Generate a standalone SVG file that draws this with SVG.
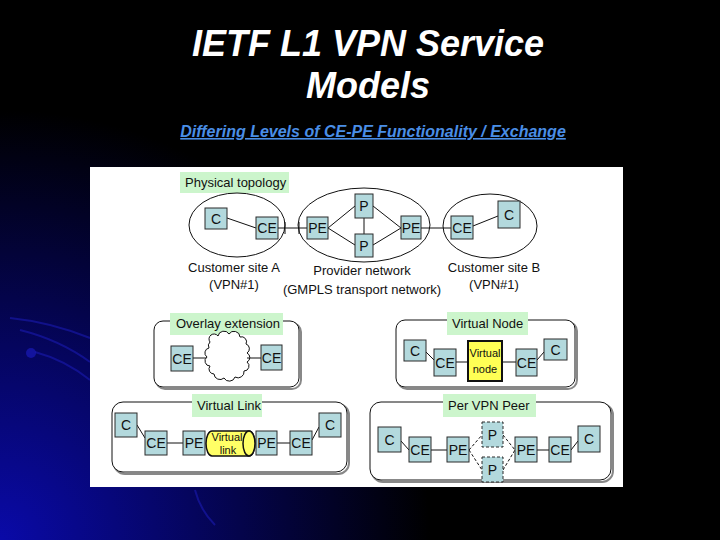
<svg xmlns="http://www.w3.org/2000/svg" width="720" height="540" viewBox="0 0 720 540">
<defs>
<radialGradient id="bg" cx="0" cy="540" r="430" gradientUnits="userSpaceOnUse">
<stop offset="0" stop-color="#0a0aa8"/>
<stop offset="0.45" stop-color="#05055e"/>
<stop offset="1" stop-color="#000000"/>
</radialGradient>
<style>
.n{fill:#b3d9dd;stroke:#2a2a2a;stroke-width:1}
.nd{fill:#b3d9dd;stroke:#2a2a2a;stroke-width:1;stroke-dasharray:3,2}
.t{font-family:"Liberation Sans",Arial,sans-serif;font-size:14px;fill:#111;text-anchor:middle}
.s{font-family:"Liberation Sans",Arial,sans-serif;font-size:13px;fill:#111}
.sm{font-family:"Liberation Sans",Arial,sans-serif;font-size:11px;fill:#111;text-anchor:middle}
.lab{fill:#ccf5cc;stroke:none}
.l{stroke:#111;stroke-width:1;fill:none}
.ld{stroke:#111;stroke-width:1;fill:none;stroke-dasharray:3,2}
.el{fill:none;stroke:#111;stroke-width:1}
.fr{fill:#fff;stroke:#111;stroke-width:1}
.shadow{fill:none;stroke:#888;stroke-width:2}
</style>
</defs>
<rect x="0" y="0" width="720" height="540" fill="#000"/>
<rect x="0" y="0" width="720" height="540" fill="url(#bg)"/>
<g id="swooshes" fill="none" stroke="#1a1ab0" stroke-width="2" opacity="0.6">
<path d="M10,318 Q50,322 90,338"/>
<path d="M20,330 Q60,340 90,362"/>
<path d="M35,352 Q65,360 90,380"/>
<path d="M195,490 Q200,510 215,525"/>
</g>
<circle cx="31" cy="353" r="5" fill="#1a1ab8" opacity="0.7"/>

<g id="title">
<text x="368" y="56" font-family="'Liberation Sans',Arial,sans-serif" font-size="36" font-weight="bold" font-style="italic" fill="#fff" text-anchor="middle">IETF L1 VPN Service</text>
<text x="368" y="98" font-family="'Liberation Sans',Arial,sans-serif" font-size="36" font-weight="bold" font-style="italic" fill="#fff" text-anchor="middle">Models</text>
<text x="373" y="137" font-family="'Liberation Sans',Arial,sans-serif" font-size="16" font-weight="bold" font-style="italic" fill="#4a8ee6" text-anchor="middle" text-decoration="underline">Differing Levels of CE-PE Functionality / Exchange</text>
</g>

<rect x="90" y="167" width="533" height="320" fill="#fff"/>

<!-- Physical topology -->
<g id="physical-label"><rect class="lab" x="180" y="172" width="109" height="21"/><text class="s" x="185" y="187">Physical topology</text></g>
<g id="site-a"><ellipse class="el" cx="237" cy="225" rx="48" ry="32"/>
<text class="s" x="234" y="272" text-anchor="middle">Customer site A</text>
<text class="s" x="234" y="289" text-anchor="middle">(VPN#1)</text></g>
<g id="provider"><ellipse class="el" cx="364" cy="225" rx="66" ry="37"/>
<text class="s" x="362" y="275" text-anchor="middle">Provider network</text>
<text class="s" x="362" y="294" text-anchor="middle">(GMPLS transport network)</text></g>
<g id="site-b"><ellipse class="el" cx="490" cy="226" rx="47" ry="32"/>
<text class="s" x="494" y="272" text-anchor="middle">Customer site B</text>
<text class="s" x="494" y="289" text-anchor="middle">(VPN#1)</text></g>

<g id="connectors">
<path class="l" d="M227,218 L256,228"/>
<path class="l" d="M278,228 H307 M285,222 V234 M299,222 V234"/>
<path class="l" d="M328,228 L355,206 M328,228 L355,245 M401,228 L373,206 M401,228 L373,245 M364,218 V234"/>
<path class="l" d="M421,228 H451"/>
<path class="l" d="M473,226 L498,216"/>
</g>

<g id="pt-c1"><rect class="n" x="205" y="208" width="22" height="21"/><text class="t" x="216" y="224">C</text></g>
<g id="pt-ce1"><rect class="n" x="256" y="217" width="22" height="22"/><text class="t" x="267" y="233">CE</text></g>
<g id="pt-pe1"><rect class="n" x="307" y="217" width="21" height="22"/><text class="t" x="317.5" y="233">PE</text></g>
<g id="pt-p1"><rect class="n" x="355" y="194" width="18" height="24"/><text class="t" x="364" y="211">P</text></g>
<g id="pt-p2"><rect class="n" x="355" y="234" width="18" height="23"/><text class="t" x="364" y="251">P</text></g>
<g id="pt-pe2"><rect class="n" x="401" y="216" width="20" height="23"/><text class="t" x="411" y="233">PE</text></g>
<g id="pt-ce2"><rect class="n" x="451" y="216" width="22" height="23"/><text class="t" x="462" y="233">CE</text></g>
<g id="pt-c2"><rect class="n" x="498" y="201" width="22" height="27"/><text class="t" x="509" y="220">C</text></g>

<!-- Overlay extension -->
<g id="overlay">
<rect class="shadow" x="156" y="323" width="145" height="66" rx="9"/>
<rect class="fr" x="154" y="321" width="145" height="66" rx="9"/>
<rect class="lab" x="170" y="313" width="113" height="22"/><text class="s" x="176" y="328">Overlay extension</text>
<path fill="#fff" stroke="#111" stroke-width="1" d="M210,342 a5,5 0 0 1 8,-6 a6,6 0 0 1 11,-2 a6,6 0 0 1 11,3 a5,5 0 0 1 6,7 a5,5 0 0 1 1,9 a5,5 0 0 1 0,9 a5,5 0 0 1 -3,9 a6,6 0 0 1 -9,6 a6,6 0 0 1 -11,1 a6,6 0 0 1 -10,-4 a5,5 0 0 1 -4,-8 a5,5 0 0 1 -3,-9 a5,5 0 0 1 2,-9 a5,5 0 0 1 1,-6 z"/>
<path class="l" d="M193,358 H206 M247,358 H261"/>
</g>
<g id="ov-ce1"><rect class="n" x="171" y="346" width="22" height="25"/><text class="t" x="182" y="364">CE</text></g>
<g id="ov-ce2"><rect class="n" x="261" y="345" width="21" height="25"/><text class="t" x="271.5" y="363">CE</text></g>

<!-- Virtual Node -->
<g id="vnode-frame">
<rect class="shadow" x="398" y="322" width="179" height="67" rx="9"/>
<rect class="fr" x="396" y="320" width="179" height="67" rx="9"/>
<rect class="lab" x="447" y="312" width="81" height="23"/><text class="s" x="452" y="328">Virtual Node</text>
<path class="l" d="M426,352 L434,360 M456,362 H468 M502,362 H516 M537,360 L544,352"/>
</g>
<g id="vn-c1"><rect class="n" x="404" y="340" width="22" height="21"/><text class="t" x="415" y="356">C</text></g>
<g id="vn-ce1"><rect class="n" x="434" y="349" width="22" height="27"/><text class="t" x="445" y="368">CE</text></g>
<g id="vn-vnode"><rect x="468" y="341" width="34" height="40" fill="#ffff55" stroke="#111" stroke-width="2"/><text class="sm" x="485" y="357">Virtual</text><text class="sm" x="485" y="373">node</text></g>
<g id="vn-ce2"><rect class="n" x="516" y="349" width="21" height="27"/><text class="t" x="526.5" y="368">CE</text></g>
<g id="vn-c2"><rect class="n" x="544" y="339" width="23" height="21"/><text class="t" x="555.5" y="355">C</text></g>

<!-- Virtual Link -->
<g id="vlink-frame">
<rect class="shadow" x="114" y="404" width="235" height="70" rx="11"/>
<rect class="fr" x="112" y="402" width="235" height="70" rx="11"/>
<rect class="lab" x="192" y="394" width="70" height="23"/><text class="s" x="197" y="410">Virtual Link</text>
<path class="l" d="M137,425 L145,438 M167,443 H183 M277,443 H290 M312,440 L319,427"/>
</g>
<g id="vl-c1"><rect class="n" x="115" y="413" width="22" height="24"/><text class="t" x="126" y="430">C</text></g>
<g id="vl-ce1"><rect class="n" x="145" y="431" width="22" height="24"/><text class="t" x="156" y="448">CE</text></g>
<g id="vl-pe1"><rect class="n" x="183" y="431" width="22" height="24"/><text class="t" x="194" y="448">PE</text></g>
<g id="vl-link">
<path d="M212,431 H249 A6,12.5 0 0 1 249,456 H212 A6,12.5 0 0 1 212,431 Z" fill="#ffff66" stroke="#111" stroke-width="1.5"/>
<ellipse cx="249" cy="443.5" rx="6" ry="12.5" fill="#ffff66" stroke="#111" stroke-width="1.5"/>
<text class="sm" x="227" y="441">Virtual</text><text class="sm" x="228" y="454">link</text>
</g>
<g id="vl-pe2"><rect class="n" x="256" y="431" width="21" height="24"/><text class="t" x="266.5" y="448">PE</text></g>
<g id="vl-ce2"><rect class="n" x="290" y="431" width="22" height="24"/><text class="t" x="301" y="448">CE</text></g>
<g id="vl-c2"><rect class="n" x="319" y="413" width="22" height="24"/><text class="t" x="330" y="430">C</text></g>

<!-- Per VPN Peer -->
<g id="peer-frame">
<rect class="shadow" x="372" y="404" width="241" height="78" rx="11"/>
<rect class="fr" x="370" y="402" width="241" height="78" rx="11"/>
<rect class="lab" x="443" y="394" width="93" height="23"/><text class="s" x="448" y="410">Per VPN Peer</text>
<path class="l" d="M401,441 L409,450 M431,450 H447 M537,450 H549 M571,450 L578,441"/>
<path class="ld" d="M469,450 L482,435 M469,450 L482,470 M503,435 L515,450 M503,470 L515,450"/>
</g>
<g id="pp-c1"><rect class="n" x="378" y="427" width="23" height="25"/><text class="t" x="389.5" y="445">C</text></g>
<g id="pp-ce1"><rect class="n" x="409" y="437" width="22" height="25"/><text class="t" x="420" y="455">CE</text></g>
<g id="pp-pe1"><rect class="n" x="447" y="437" width="22" height="25"/><text class="t" x="458" y="455">PE</text></g>
<g id="pp-p1"><rect class="nd" x="482" y="422" width="21" height="25"/><text class="t" x="492.5" y="440">P</text></g>
<g id="pp-p2"><rect class="nd" x="482" y="457" width="21" height="25"/><text class="t" x="492.5" y="475">P</text></g>
<g id="pp-pe2"><rect class="n" x="515" y="437" width="22" height="25"/><text class="t" x="526" y="455">PE</text></g>
<g id="pp-ce2"><rect class="n" x="549" y="437" width="22" height="25"/><text class="t" x="560" y="455">CE</text></g>
<g id="pp-c2"><rect class="n" x="578" y="426" width="22" height="26"/><text class="t" x="589" y="444">C</text></g>
</svg>
